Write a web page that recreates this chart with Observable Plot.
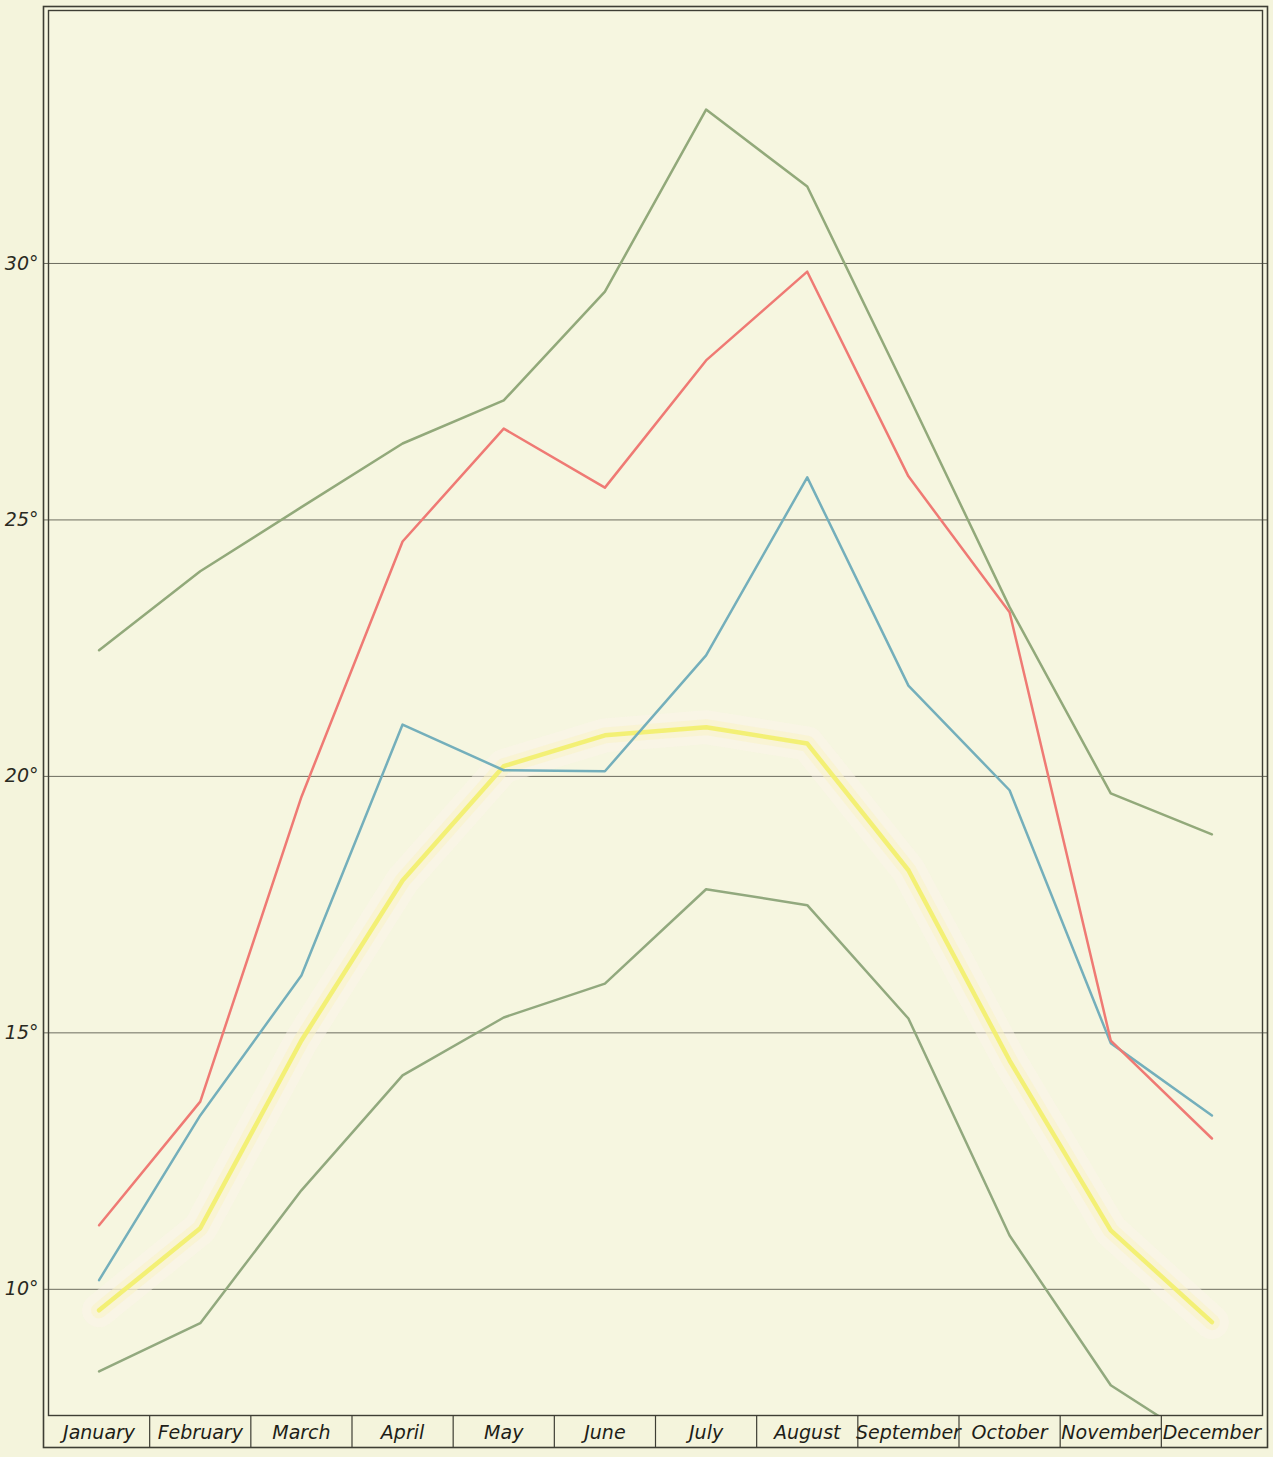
<!DOCTYPE html>
<html>
<head>
<meta charset="utf-8">
<script src="https://cdn.jsdelivr.net/npm/d3@7"></script>
<script src="https://cdn.jsdelivr.net/npm/@observablehq/plot@0.6"></script>
<style>
  html, body { margin: 0; padding: 0; background: #f3f2d8; }
  #chart { width: 1273px; height: 1457px; }
</style>
</head>
<body>
<div id="chart"></div>
<script>
const months = ["January","February","March","April","May","June","July","August","September","October","November","December"];
const yTicks = [10, 15, 20, 25, 30];

const topGreen    = [22.46, 24.0, 25.25, 26.49, 27.33, 29.45, 33.0, 31.5, 27.43, 23.3, 19.67, 18.87];
const red         = [11.25, 13.66, 19.6, 24.58, 26.78, 25.63, 28.11, 29.84, 25.85, 23.2, 14.85, 12.94];
const blue        = [10.18, 13.39, 16.12, 21.01, 20.12, 20.1, 22.36, 25.83, 21.77, 19.73, 14.8, 13.39];
const yellow      = [9.59, 11.19, 14.85, 17.97, 20.2, 20.8, 20.96, 20.64, 18.17, 14.46, 11.15, 9.36];
const bottomGreen = [8.4, 9.34, 11.93, 14.17, 15.3, 15.96, 17.8, 17.49, 15.28, 11.05, 8.13, 6.86];

const yMin = 7.54, yMax = 35.01;
const stripBottom = 6.916; // month-label strip extends below the frame
const toRows = arr => arr.map((v, i) => ({i, v}));
const dividers = d3.range(0, 11).map(i => i + 0.5);

const font = "'DejaVu Sans', sans-serif";

const plot = Plot.plot({
  width: 1273,
  height: 1457,
  marginTop: 6,
  marginRight: 6,
  marginBottom: 42,
  marginLeft: 43,
  style: {background: "#f4f4dc", fontFamily: font},
  x: {type: "linear", domain: [-0.5, 11.5], insetLeft: 5, insetRight: 5, axis: null},
  y: {domain: [yMin, yMax], axis: null},
  marks: [
    Plot.frame({fill: "#f6f6e0"}),
    Plot.ruleY(yTicks, {stroke: "#4a4a40", strokeWidth: 1, strokeOpacity: 0.8}),
    // yellow glow
    Plot.line(toRows(yellow), {x: "i", y: "v", stroke: "#fdf3ea", strokeWidth: 34, strokeOpacity: 0.45}),
    Plot.line(toRows(yellow), {x: "i", y: "v", stroke: "#f9f2c6", strokeWidth: 16, strokeOpacity: 0.55}),
    Plot.line(toRows(yellow), {x: "i", y: "v", stroke: "#f2f06a", strokeWidth: 4.5, strokeOpacity: 0.9}),
    Plot.line(toRows(topGreen), {x: "i", y: "v", stroke: "#92a97a", strokeWidth: 2.5, clip: true}),
    Plot.line(toRows(bottomGreen), {x: "i", y: "v", stroke: "#92a97e", strokeWidth: 2.5, clip: true}),
    Plot.line(toRows(blue), {x: "i", y: "v", stroke: "#74afbb", strokeWidth: 2.5}),
    Plot.line(toRows(red), {x: "i", y: "v", stroke: "#ef7a74", strokeWidth: 2.5}),
    // y labels
    Plot.text(yTicks, {y: d => d, frameAnchor: "left", dx: -5, textAnchor: "end", text: d => d + "°",
      fontSize: 19, fontStyle: "italic", fill: "#2a2a22"}),
    // frames (double border)
    Plot.frame({stroke: "#3e3e34", strokeWidth: 1.6, insetBottom: -32}),
    Plot.frame({stroke: "#3e3e34", strokeWidth: 1.4, insetLeft: 5, insetRight: 5, insetTop: 4}),
    // month strip dividers
    Plot.ruleX(dividers, {x: d => d, y1: stripBottom, y2: yMin, stroke: "#3e3e34", strokeWidth: 1.2}),
    Plot.text(months, {x: (d, i) => i, frameAnchor: "bottom", dy: 17, text: d => d, fontSize: 19,
      fontStyle: "italic", fill: "#1e1e18", lineAnchor: "middle"})
  ]
});

document.getElementById("chart").appendChild(plot);
</script>
</body>
</html>
